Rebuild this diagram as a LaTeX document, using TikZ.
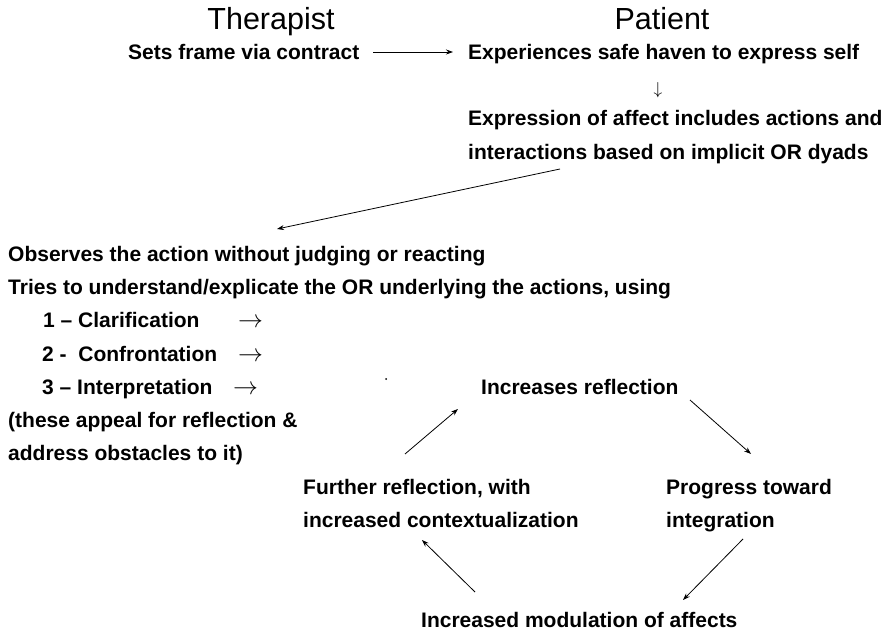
\documentclass[tikz,border=0pt]{standalone}
\usepackage{fontspec}
\setmainfont{Liberation Sans}
\usetikzlibrary{arrows.meta,calc}
\begin{document}
\begin{tikzpicture}[x=1pt,y=1pt,
  hd/.style={inner sep=0pt,anchor=base,font=\fontsize{30.5}{34}\selectfont},
  tx/.style={inner sep=0pt,anchor=base west,font=\bfseries\fontsize{21}{25}\selectfont},
  arr/.style={line width=0.8pt,-{Stealth[length=7pt,width=5pt]}}]
\fill[white] (0,0) rectangle (886,633);
\useasboundingbox (0,0) rectangle (886,633);
\newcommand\rarr{{\fontsize{24}{24}\selectfont$\rightarrow$}}
% headings
\node[hd] (ther) at (271,603) {Therapist};
\node[hd] (pat) at (662,603) {Patient};
% top row
\node[tx] (sets) at (128,573) {Sets frame via contract};
\node[tx] (exp) at (468,573) {Experiences safe haven to express self};
\node[inner sep=0pt,font=\fontsize{16}{16}\selectfont] (down) at (658,543) {$\downarrow$};
\node[tx] (expr1) at (468,507) {Expression of affect includes actions and};
\node[tx] (expr2) at (468,473) {interactions based on implicit OR dyads};
% therapist block
\node[tx] (obs1) at (8,371.5) {Observes the action without judging or reacting};
\node[tx] (obs2) at (8,338.3) {Tries to understand/explicate the OR underlying the actions, using};
\node[tx] (it1) at (43,305.1) {\makebox[195pt][l]{1 -- Clarification}\rarr};
\node[tx] (it2) at (42,271.9) {\makebox[196pt][l]{2 -\ \ Confrontation}\rarr};
\node[tx] (it3) at (42,238.7) {\makebox[191pt][l]{3 -- Interpretation}\rarr};
\node[tx] (note1) at (8,205.5) {(these appeal for reflection \&};
\node[tx] (note2) at (8,172.3) {address obstacles to it)};
\fill (386,254) circle (1);
% cycle
\node[tx] (inc) at (481,238.5) {Increases reflection};
\node[tx] (prog1) at (666,138.5) {Progress toward};
\node[tx] (prog2) at (666,105.5) {integration};
\node[tx] (mod) at (421,5.5) {Increased modulation of affects};
\node[tx] (fur1) at (303,138.5) {Further reflection, with};
\node[tx] (fur2) at (303,105.5) {increased contextualization};
% connectors
\draw[arr] ($(sets.base west)+(245,8)$) -- ($(exp.base west)+(-15,8)$);
\draw[arr] ($(expr2.base west)+(92,-9)$) -- ($(obs1.base west)+(269,32.5)$);
\draw[arr] ($(fur1.base west)+(102,40.5)$) -- ($(inc.base west)+(-23,-14.5)$);
\draw[arr] ($(inc.base west)+(209,-5.5)$) -- ($(prog1.base west)+(85,40.5)$);
\draw[arr] ($(prog2.base west)+(77,-11.5)$) -- ($(mod.base west)+(262,27.5)$);
\draw[arr] ($(mod.base west)+(54,35.5)$) -- ($(fur2.base west)+(119,-12.5)$);
\end{tikzpicture}
\end{document}
